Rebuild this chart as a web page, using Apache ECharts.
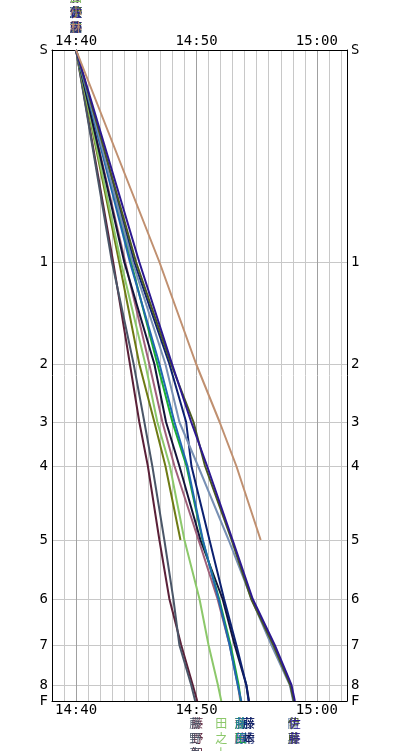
<!DOCTYPE html>
<html><head><meta charset="utf-8">
<script src="https://cdn.jsdelivr.net/npm/echarts@6/dist/echarts.min.js"></script>
<style>html,body{margin:0;padding:0;background:#fff}#c{width:399px;height:751px}</style>
</head><body><div id="c"></div>
<script>
// Stations (y) and their positions along the course
const stationLabels = ['S','1','2','3','4','5','6','7','8','F'];
const stationPos = [0, 212, 314, 372, 416, 490, 549, 595, 635, 651];
// Time ticks (minutes after 14:40)
const timeTickValues = [0, 10, 20];
const timeTickLabels = ['14:40', '14:50', '15:00'];

// Runner names
const runnerNames = ['藤野智','藤野真','大川','田之上','齋藤','藤本','藤田','藤原','藤崎','陸奥','伊藤','佐藤','小林'];
// Passing times in minutes after 14:40, per station (S,1,2,...)
const tMaroon    = [0, 3.08, 4.47, 5.25, 5.96, 6.92, 7.75, 8.73, 9.69, 10.06];
const tSlate     = [0, 2.98, 4.78, 5.67, 6.33, 7.33, 8.08, 8.58, 9.56, 9.89];
const tOlive     = [0, 3.58, 5.25, 6.50, 7.42, 8.67];
const tLightGrn  = [0, 3.72, 5.75, 6.75, 7.79, 9.00, 10.25, 11.00, 11.78, 12.06];
const tMauve     = [0, 4.08, 6.08, 7.17, 8.17, 10.17, 11.75, 12.75, 13.44, 13.64];
const tBlack     = [0, 4.00, 6.50, 7.47, 8.58, 10.33, 12.17, 13.17, 14.14, 14.36];
const tGreen     = [0, 4.56, 6.75, 8.00, 9.17, 10.50, 11.88, 12.83, 13.50, 13.68];
const tTeal      = [0, 4.47, 6.92, 8.17, 9.25, 10.53, 11.83, 12.75, 13.42, 13.72];
const tNavy      = [0, 4.83, 7.75, 9.14, 9.58, 11.08, 12.29, 13.31, 14.14, 14.33];
const tBlueGray  = [0, 4.69, 7.42, 8.58, 10.13, 12.67, 14.58, 16.22, 17.75, 18.03];
const tDarkOlive = [0, 4.98, 7.89, 9.75, 10.71, 12.92, 14.54, 16.38, 17.79, 18.08];
const tIndigo    = [0, 5.25, 7.97, 9.56, 10.88, 13.00, 14.67, 16.50, 17.89, 18.17];
const tBrown     = [0, 6.92, 9.97, 11.92, 13.31, 15.33];

const runnerTimes = [tMaroon, tSlate, tOlive, tLightGrn, tMauve, tBlack, tGreen, tTeal, tNavy, tBlueGray, tDarkOlive, tIndigo, tBrown];
const runnerColors = ['#5a2038','#4a5668','#6e7a14','#8cc86a','#a0607a','#14143a','#18b030','#2068b0','#0c2070','#7890b4','#4a5a20','#2c1890','#c09070'];

const FONT = 'DejaVu Sans Mono';
const vert = s => s.split('').join('\n');

const series = runnerNames.map((name, i) => {
  const times = runnerTimes[i];
  const data = times.map((t, k) => {
    const item = { value: [t, stationPos[k]] };
    if (k === 0) {
      item.label = { show: true, position: 'top', distance: 15, formatter: vert(name) };
    } else if (k === stationPos.length - 1) {
      item.label = { show: true, position: 'bottom', distance: 15, formatter: vert(name) };
    }
    return item;
  });
  return {
    name, type: 'line', data, showSymbol: true, symbol: 'circle', symbolSize: 0, animation: false,
    lineStyle: { color: runnerColors[i], width: 2 },
    itemStyle: { color: runnerColors[i] },
    label: { show: false, color: runnerColors[i], fontFamily: 'Noto Sans CJK JP', fontSize: 12, lineHeight: 15 },
    emphasis: { disabled: true },
    z: 3
  };
});

const gridCols = ['#c8c8c8','#c8c8c8','#a0a0a0','#c8c8c8','#c8c8c8','#c8c8c8','#c8c8c8','#c8c8c8','#c8c8c8','#c8c8c8'];
const xFmt = v => { const i = timeTickValues.indexOf(v); return i >= 0 ? timeTickLabels[i] : ''; };
const yFmt = v => { const i = stationPos.indexOf(v); return i >= 0 ? stationLabels[i] : ''; };

const xBase = {
  type: 'value', min: -2, max: 22.5, interval: 1,
  axisLine: { show: true, onZero: false, lineStyle: { color: '#000', width: 1 } },
  axisTick: { show: false },
  axisLabel: { formatter: xFmt, color: '#000', fontFamily: FONT, fontSize: 14, margin: 2, showMinLabel: false, showMaxLabel: false }
};
const yBase = {
  type: 'value', min: 0, max: 651, inverse: true,
  axisLine: { show: true, onZero: false, lineStyle: { color: '#000', width: 1 } },
  axisTick: { show: false, customValues: stationPos },
  axisLabel: { customValues: stationPos, formatter: yFmt, color: '#000', fontFamily: FONT, fontSize: 14, margin: 4 }
};

const chart = echarts.init(document.getElementById('c'), null, { renderer: 'canvas' });
chart.setOption({
  animation: false,
  grid: { left: 52, right: 52, top: 50, bottom: 50 },
  xAxis: [
    Object.assign({}, xBase, { position: 'bottom', splitLine: { show: true, showMinLine: true, lineStyle: { color: gridCols, width: 1 } } }),
    Object.assign({}, xBase, { position: 'top', splitLine: { show: false } })
  ],
  yAxis: [
    Object.assign({}, yBase, { position: 'left', splitLine: { show: true, lineStyle: { color: '#c8c8c8', width: 1 } } }),
    Object.assign({}, yBase, { position: 'right', splitLine: { show: false } })
  ],
  series
});
</script>
</body></html>
